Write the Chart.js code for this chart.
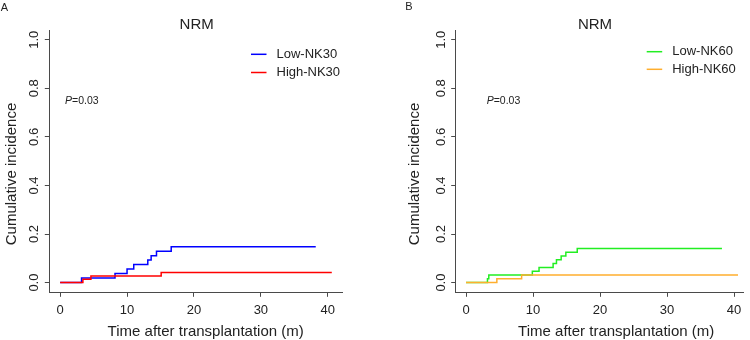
<!DOCTYPE html>
<html>
<head>
<meta charset="utf-8">
<script src="https://cdn.jsdelivr.net/npm/chart.js@4.4.1/dist/chart.umd.min.js"></script>
<style>
  body { margin: 0; background: #fff; }
  #wrap { position: relative; width: 750px; height: 340px; overflow: hidden; }
  canvas { position: absolute; top: 0; }
</style>
</head>
<body>
<div id="wrap">
  <canvas id="chartA" width="375" height="340" style="left:0"></canvas>
  <canvas id="chartB" width="375" height="340" style="left:375px"></canvas>
</div>
<script>
// axis ticks
var xTicks = [0, 10, 20, 30, 40];
var xTickLabels = ['0', '10', '20', '30', '40'];
var yTicks = [0, 0.2, 0.4, 0.6, 0.8, 1.0];
var yTickLabels = ['0.0', '0.2', '0.4', '0.6', '0.8', '1.0'];

// panel A - NK30 groups (time in months, cumulative incidence)
var lowNK30Time = [0, 3.2, 8.2, 10.0, 11.0, 13.1, 13.6, 14.4, 16.6, 38.2];
var lowNK30Inc = [0, 0.0185, 0.037, 0.0555, 0.074, 0.0925, 0.111, 0.1295, 0.148, 0.148];
var highNK30Time = [0, 3.4, 4.6, 15.1, 40.6];
var highNK30Inc = [0, 0.0137, 0.0274, 0.0411, 0.0411];

// panel B - NK60 groups
var lowNK60Time = [0, 3.2, 3.4, 9.9, 10.9, 13.0, 13.5, 14.2, 14.9, 16.6, 38.2];
var lowNK60Inc = [0, 0.0156, 0.0312, 0.0469, 0.0625, 0.0781, 0.0938, 0.1094, 0.125, 0.1406, 0.1406];
var highNK60Time = [0, 4.6, 8.3, 40.6];
var highNK60Inc = [0, 0.0156, 0.0312, 0.0312];

var panelTitle = 'NRM';
var pValue = '0.03';
var xTitle = 'Time after transplantation (m)';
var yTitle = 'Cumulative incidence';

var FONT = '"Liberation Sans", Arial, Helvetica, sans-serif';
var AXIS = '#4a4a4a';
var TEXT = '#222';

Chart.defaults.font.family = FONT;
Chart.defaults.color = TEXT;

function toPoints(times, values) {
    return times.map(function (t, i) { return { x: t, y: values[i] }; });
}

// draws panel letter, title, p value, axis titles and the legend
var panelText = {
    id: 'panelText',
    afterDraw: function (chart) {
        var t = chart.options.plugins.panelText;
        var ctx = chart.ctx;
        ctx.save();
        ctx.fillStyle = TEXT;
        ctx.textBaseline = 'middle';

        ctx.textAlign = 'left';
        ctx.font = '11px ' + FONT;
        ctx.fillText(t.letter, t.letterX, t.letterY);

        ctx.textAlign = 'center';
        ctx.font = '15px ' + FONT;
        ctx.fillText(panelTitle, t.titleX, 24.7);
        ctx.fillText(xTitle, t.xTitleX, 331.5);

        ctx.save();
        ctx.translate(t.yTitleX, 174);
        ctx.rotate(-Math.PI / 2);
        ctx.fillText(yTitle, 0, 0);
        ctx.restore();

        ctx.textAlign = 'left';
        ctx.font = 'italic 10.5px ' + FONT;
        ctx.fillText('P', t.pX, t.pY);
        var pw = ctx.measureText('P').width;
        ctx.font = '10.5px ' + FONT;
        ctx.fillText('=' + pValue, t.pX + pw, t.pY);

        // legend
        ctx.font = '13px ' + FONT;
        chart.data.datasets.forEach(function (ds, i) {
            var y = t.legY + i * t.legGap;
            ctx.strokeStyle = ds.borderColor;
            ctx.lineWidth = 1.5;
            ctx.beginPath();
            ctx.moveTo(t.legX, y);
            ctx.lineTo(t.legX + 15.5, y);
            ctx.stroke();
            ctx.fillText(ds.label, t.legX + 25.5, y);
        });
        ctx.restore();
    }
};

function makePanel(id, series, geo) {
    return new Chart(document.getElementById(id), {
        type: 'line',
        data: {
            datasets: series.map(function (s) {
                return {
                    label: s.label,
                    data: toPoints(s.time, s.inc),
                    borderColor: s.color,
                    borderWidth: 1.5,
                    pointRadius: 0,
                    stepped: 'before',
                    fill: false,
                    order: s.order
                };
            })
        },
        options: {
            responsive: false,
            animation: false,
            events: [],
            layout: { padding: { left: 0, top: 30, right: geo.padRight, bottom: 0 } },
            scales: {
                x: {
                    type: 'linear',
                    min: geo.xMin,
                    max: geo.xMax,
                    afterBuildTicks: function (s) { s.ticks = xTicks.map(function (v) { return { value: v }; }); },
                    afterFit: function (s) { s.height = 47.7; },
                    grid: { drawOnChartArea: false, drawTicks: true, tickLength: 4.5, color: AXIS, lineWidth: 1 },
                    border: { display: true, color: AXIS, width: 1 },
                    ticks: {
                        padding: 5.4,
                        color: TEXT,
                        font: { size: 13 },
                        maxRotation: 0,
                        callback: function (v, i) { return xTickLabels[i]; }
                    }
                },
                y: {
                    min: -0.04,
                    max: 1.04,
                    afterBuildTicks: function (s) { s.ticks = yTicks.map(function (v) { return { value: v }; }); },
                    afterFit: function (s) { s.width = geo.yWidth; },
                    grid: { drawOnChartArea: false, drawTicks: true, tickLength: 4.5, color: AXIS, lineWidth: 1 },
                    border: { display: true, color: AXIS, width: 1 },
                    ticks: {
                        padding: geo.yTickPad,
                        color: TEXT,
                        font: { size: 13 },
                        minRotation: 90,
                        maxRotation: 90,
                        crossAlign: 'center',
                        callback: function (v, i) { return yTickLabels[i]; }
                    }
                }
            },
            plugins: {
                legend: { display: false },
                tooltip: { enabled: false },
                panelText: geo.text
            }
        },
        plugins: [panelText]
    });
}

makePanel('chartA', [
    { label: 'Low-NK30', time: lowNK30Time, inc: lowNK30Inc, color: '#0000ff', order: 1 },
    { label: 'High-NK30', time: highNK30Time, inc: highNK30Inc, color: '#ff0000', order: 0 }
], {
    xMin: -1.62, xMax: 42.2, yWidth: 49.3, padRight: 32.5, yTickPad: 1.5,
    text: { letter: 'A', letterX: 0.7, letterY: 7.6, titleX: 196.7, xTitleX: 205.7, yTitleX: 11.7,
            pX: 65, pY: 100.7, legX: 251, legY: 54.3, legGap: 18.2 }
});

makePanel('chartB', [
    { label: 'Low-NK60', time: lowNK60Time, inc: lowNK60Inc, color: '#22ee22', order: 1 },
    { label: 'High-NK60', time: highNK60Time, inc: highNK60Inc, color: '#ffae2e', order: 0 }
], {
    xMin: -1.54, xMax: 41.4, yWidth: 80.7, padRight: 6.6, yTickPad: 0.5,
    text: { letter: 'B', letterX: 30.2, letterY: 7.2, titleX: 220, xTitleX: 241.2, yTitleX: 40,
            pX: 111.7, pY: 101.5, legX: 271.7, legY: 51.7, legGap: 17.6 }
});
</script>
</body>
</html>
